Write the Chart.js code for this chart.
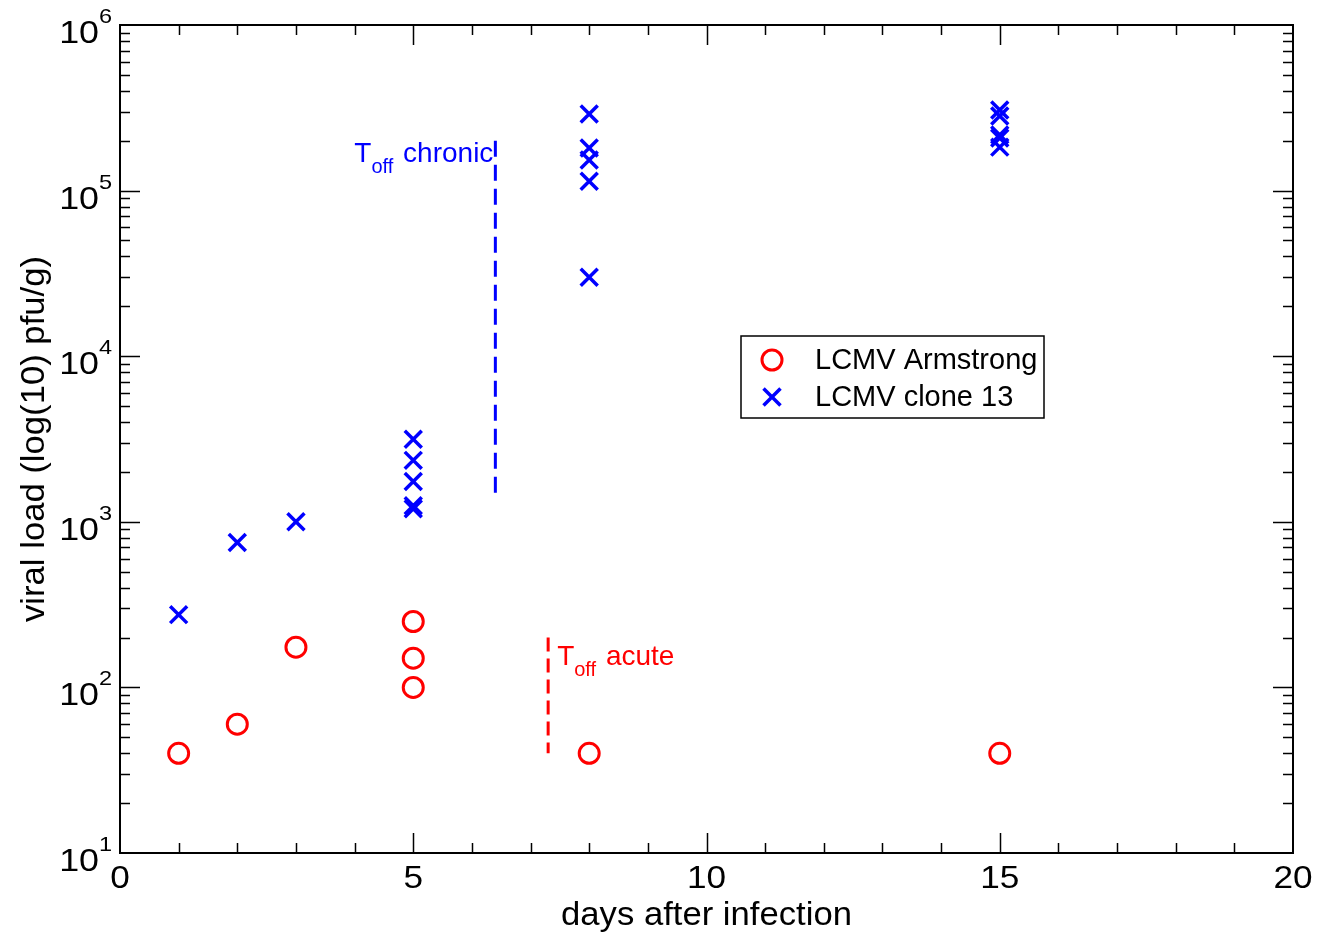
<!DOCTYPE html>
<html><head><meta charset="utf-8">
<script src="https://cdn.jsdelivr.net/npm/chart.js@4/dist/chart.umd.min.js"></script>
<style>html,body{margin:0;padding:0;background:#fff}#wrap{width:1319px;height:933px}</style>
</head><body><div id="wrap"><canvas id="c" width="1319" height="933"></canvas></div>
<script>
// ---- data ----
const armstrongDays = [1, 2, 3, 5, 5, 5, 8, 15];
const armstrongLoad = [40, 60, 175, 250, 150, 100, 40, 40];
const clone13Days = [1, 2, 3, 5, 5, 5, 5, 5, 8, 8, 8, 8, 8, 15, 15, 15, 15, 15];
const clone13Load = [275, 750, 1000, 3150, 2350, 1750, 1250, 1200, 290000, 181000, 153000, 114000, 30000, 307000, 282000, 217000, 208000, 183000];
const chronicLineDays = [6.4, 6.4];
const chronicLineLoad = [200000, 1500];
const acuteLineDays = [7.3, 7.3];
const acuteLineLoad = [200, 40];
const xTickValues = [0, 5, 10, 15, 20];
const xTickLabels = ['0', '5', '10', '15', '20'];
const yTickValues = [10, 100, 1000, 10000, 100000, 1000000];
const yTickBase = '10';
const yTickExponents = ['1', '2', '3', '4', '5', '6'];
const seriesNames = ['LCMV Armstrong', 'LCMV clone 13'];
const xTitle = 'days after infection';
const yTitle = 'viral load (log(10) pfu/g)';

const RED = '#ff0000', BLUE = '#0000ff';
const FONT = '"Liberation Sans", Arial, sans-serif';
const pts = (xs, ys) => xs.map((x, i) => ({x: x, y: ys[i]}));

function txt(ctx, s, x, y, align, size, sx) {
  ctx.save();
  ctx.translate(x, y);
  ctx.scale(sx, 1);
  ctx.font = size + 'px ' + FONT;
  ctx.textAlign = align;
  ctx.textBaseline = 'alphabetic';
  ctx.fillText(s, 0, 0);
  ctx.restore();
}

const decorPlugin = {
  id: 'decor',
  afterDraw(chart) {
    const ctx = chart.ctx, a = chart.chartArea;
    const xs = chart.scales.x, ys = chart.scales.y;
    ctx.save();
    // ticks
    ctx.strokeStyle = '#000'; ctx.lineWidth = 1.5;
    ctx.beginPath();
    ys.ticks.forEach(t => {
      const v = t.value;
      if (v <= ys.min || v >= ys.max) return;
      const py = Math.round(ys.getPixelForValue(v)) + 0.5;
      const lg = Math.log10(v);
      const len = Math.abs(lg - Math.round(lg)) < 1e-9 ? 20 : 10;
      ctx.moveTo(a.left, py); ctx.lineTo(a.left + len, py);
      ctx.moveTo(a.right, py); ctx.lineTo(a.right - len, py);
    });
    xs.ticks.forEach(t => {
      const v = t.value;
      if (v <= xs.min || v >= xs.max) return;
      const px = Math.round(xs.getPixelForValue(v)) + 0.5;
      const len = v % 5 === 0 ? 20 : 10;
      ctx.moveTo(px, a.bottom); ctx.lineTo(px, a.bottom - len);
      ctx.moveTo(px, a.top); ctx.lineTo(px, a.top + len);
    });
    ctx.stroke();
    // frame
    ctx.lineWidth = 2;
    ctx.strokeRect(a.left, a.top, a.right - a.left, a.bottom - a.top);
    // x tick labels
    ctx.fillStyle = '#000';
    xTickValues.forEach((v, i) => {
      txt(ctx, xTickLabels[i], xs.getPixelForValue(v), a.bottom + 35, 'center', 32, 1.1);
    });
    // y tick labels with superscripts
    yTickValues.forEach((v, i) => {
      const py = ys.getPixelForValue(v);
      txt(ctx, yTickBase, a.left - 21, py + 18, 'right', 32, 1.12);
      txt(ctx, yTickExponents[i], a.left - 21, py - 2, 'left', 21, 1.12);
    });
    // axis titles
    txt(ctx, xTitle, (a.left + a.right) / 2, a.bottom + 72, 'center', 33, 1.05);
    ctx.save();
    ctx.translate(44, (a.top + a.bottom) / 2);
    ctx.rotate(-Math.PI / 2);
    txt(ctx, yTitle, 0, 0, 'center', 33, 1.05);
    ctx.restore();
    // annotations
    const widthOf = (rest) => {
      ctx.font = '28px ' + FONT;
      let w = ctx.measureText('T').width + ctx.measureText(rest).width + 2;
      ctx.font = '20px ' + FONT;
      return w + ctx.measureText('off').width;
    };
    const sub = (x, y, color, rest) => {
      ctx.fillStyle = color; ctx.textAlign = 'left';
      ctx.font = '28px ' + FONT;
      ctx.fillText('T', x, y);
      let w = ctx.measureText('T').width;
      ctx.font = '20px ' + FONT;
      ctx.fillText('off', x + w, y + 11);
      w += ctx.measureText('off').width;
      ctx.font = '28px ' + FONT;
      ctx.fillText(rest, x + w + 2, y);
    };
    const cx = xs.getPixelForValue(chronicLineDays[0]);
    const cy = ys.getPixelForValue(chronicLineLoad[0]);
    sub(cx - 2 - widthOf(' chronic'), cy + 21, BLUE, ' chronic');
    const ax = xs.getPixelForValue(acuteLineDays[0]);
    const ay = ys.getPixelForValue(acuteLineLoad[0]);
    sub(ax + 9, ay + 27, RED, ' acute');
    // legend
    const lx = 741, ly = 336, lw = 303, lh = 82;
    ctx.fillStyle = '#fff';
    ctx.fillRect(lx, ly, lw, lh);
    ctx.strokeStyle = '#000'; ctx.lineWidth = 1.5;
    ctx.strokeRect(lx, ly, lw, lh);
    const rows = [360, 397];
    [0, 1].forEach(i => {
      const ds = chart.data.datasets[i];
      ctx.strokeStyle = ds.borderColor; ctx.fillStyle = 'rgba(0,0,0,0)';
      ctx.lineWidth = ds.borderWidth;
      Chart.helpers.drawPoint(ctx, {pointStyle: ds.pointStyle, radius: ds.pointRadius, borderWidth: ds.borderWidth}, 772, rows[i]);
      ctx.fillStyle = '#000';
      txt(ctx, seriesNames[i], 815, rows[i] + 9, 'left', 29, 1.0);
    });
    ctx.restore();
  }
};

new Chart(document.getElementById('c'), {
  type: 'scatter',
  data: {
    datasets: [
      {label: seriesNames[0], data: pts(armstrongDays, armstrongLoad), pointStyle: 'circle', pointRadius: 10,
       borderColor: RED, backgroundColor: 'rgba(0,0,0,0)', borderWidth: 3, pointHoverRadius: 10},
      {label: seriesNames[1], data: pts(clone13Days, clone13Load), pointStyle: 'crossRot', pointRadius: 12,
       borderColor: BLUE, backgroundColor: BLUE, borderWidth: 3.5, pointHoverRadius: 12},
      {type: 'line', label: 'chronic', data: pts(chronicLineDays, chronicLineLoad), borderColor: BLUE,
       borderWidth: 3, borderDash: [16, 8], pointRadius: 0, showLine: true, fill: false},
      {type: 'line', label: 'acute', data: pts(acuteLineDays, acuteLineLoad), borderColor: RED,
       borderWidth: 3, borderDash: [14, 7], pointRadius: 0, showLine: true, fill: false}
    ]
  },
  options: {
    responsive: false, animation: false, devicePixelRatio: 1,
    layout: {padding: {left: 120, top: 25, right: 26, bottom: 80}},
    plugins: {legend: {display: false}, tooltip: {enabled: false}},
    scales: {
      x: {type: 'linear', display: false, min: 0, max: 20, ticks: {stepSize: 1}},
      y: {type: 'logarithmic', display: false, min: 10, max: 1000000,
          afterBuildTicks(scale) {
            const t = [];
            for (let k = 1; k <= 5; k++) for (let m = 1; m <= 9; m++) t.push({value: m * Math.pow(10, k)});
            t.push({value: 1000000});
            scale.ticks = t;
          }}
    }
  },
  plugins: [decorPlugin]
});
</script></body></html>
